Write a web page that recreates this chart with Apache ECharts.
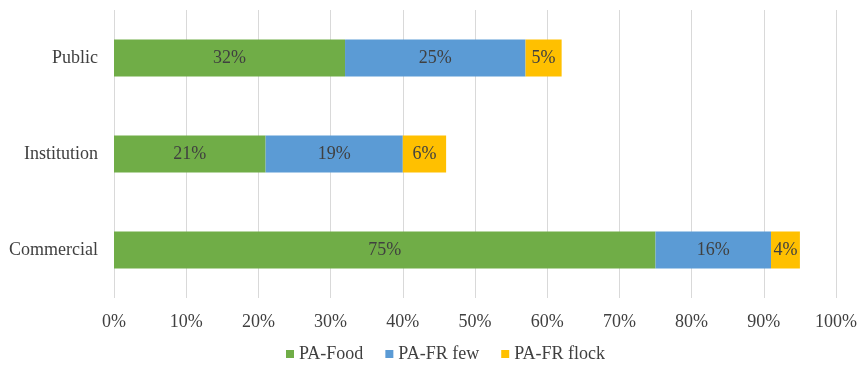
<!DOCTYPE html>
<html>
<head>
<meta charset="utf-8">
<script src="https://cdn.jsdelivr.net/npm/echarts@6/dist/echarts.min.js"></script>
<style>
  html, body { margin: 0; padding: 0; background: #fff; }
  #main { width: 860px; height: 365px; }
</style>
</head>
<body>
<div id="main"></div>
<script>
var categories = ['Commercial', 'Institution', 'Public'];
var seriesNames = ['PA-Food', 'PA-FR few', 'PA-FR flock'];
var paFood = [75, 21, 32];
var paFrFew = [16, 19, 25];
var paFrFlock = [4, 6, 5];
var xTicks = [0, 10, 20, 30, 40, 50, 60, 70, 80, 90, 100];

var colors = ['#70ad47', '#5b9bd5', '#ffc000'];
var font = '"Liberation Serif", "Times New Roman", serif';

var myChart = echarts.init(document.getElementById('main'));

function makeSeries(name, data, color) {
  return {
    name: name,
    type: 'bar',
    stack: 'total',
    data: data,
    barWidth: 37,
    itemStyle: { color: color },
    label: {
      show: true,
      position: 'inside',
      formatter: '{c}%',
      color: '#404040',
      fontFamily: font,
      fontSize: 18
    }
  };
}

var option = {
  animation: false,
  textStyle: { fontFamily: font },
  grid: { left: 114, right: 22, top: 10, bottom: 67 },
  legend: {
    bottom: -3,
    left: 281,
    icon: 'rect',
    itemWidth: 8,
    itemHeight: 8,
    itemGap: 22,
    textStyle: { color: '#404040', fontFamily: font, fontSize: 18 },
    data: seriesNames
  },
  xAxis: {
    type: 'value',
    min: xTicks[0],
    max: xTicks[xTicks.length - 1],
    interval: 10,
    axisLine: { show: false },
    axisTick: { show: false },
    axisLabel: {
      formatter: '{value}%',
      color: '#404040',
      fontFamily: font,
      fontSize: 18,
      margin: 15
    },
    splitLine: { lineStyle: { color: '#d9d9d9', width: 1 } }
  },
  yAxis: {
    type: 'category',
    data: categories,
    axisLine: { show: false },
    axisTick: { show: false },
    axisLabel: {
      color: '#404040',
      fontFamily: font,
      fontSize: 18,
      margin: 16
    }
  },
  series: [
    makeSeries(seriesNames[0], paFood, colors[0]),
    makeSeries(seriesNames[1], paFrFew, colors[1]),
    makeSeries(seriesNames[2], paFrFlock, colors[2])
  ]
};

myChart.setOption(option);
</script>
</body>
</html>
